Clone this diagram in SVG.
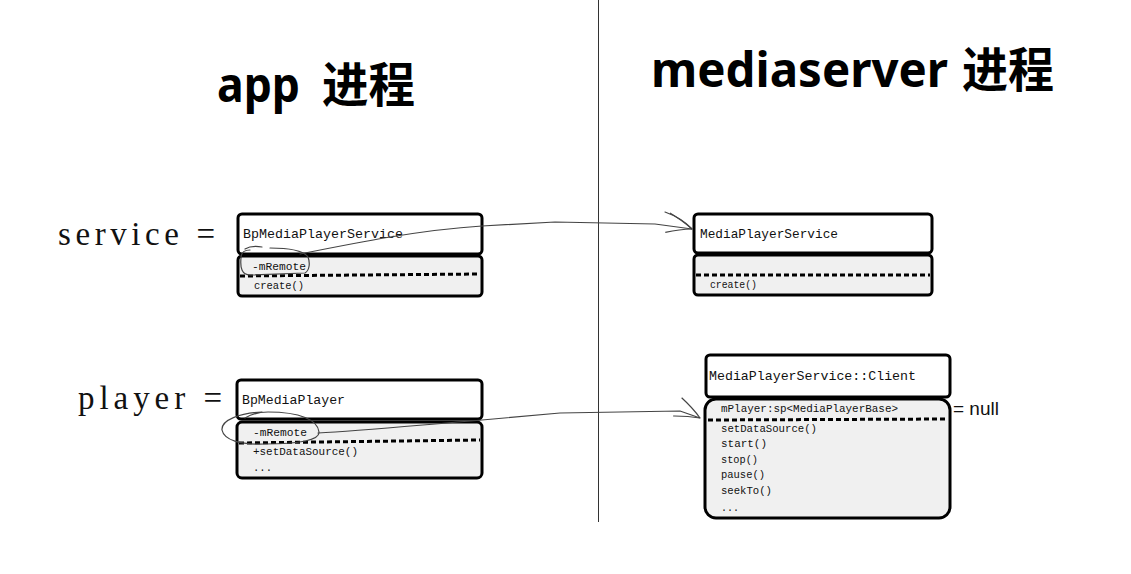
<svg xmlns="http://www.w3.org/2000/svg" width="1131" height="574" viewBox="0 0 1131 574">
<style>
.title{font-family:"Noto Sans","Noto Sans CJK SC",sans-serif;font-weight:bold;font-size:48px;fill:#000}
.lbl{font-family:"Liberation Serif",serif;font-size:33px;fill:#111}
.hdr{font-family:"Liberation Mono",monospace;font-size:13.3px;fill:#111}
.mem{font-family:"Liberation Mono",monospace;font-size:11px;fill:#111}
.top{fill:#fff;stroke:#000;stroke-width:3}
.bot{fill:#f0f0f0;stroke:#000;stroke-width:3}
.dash{fill:none;stroke:#000;stroke-width:3;stroke-dasharray:5 3}
.conn{fill:none;stroke:#444;stroke-width:1.2;stroke-linecap:round;stroke-linejoin:round}
.null{font-family:"Liberation Sans",sans-serif;font-size:19px;fill:#111}
</style>
<defs>
<marker id="arr" markerUnits="userSpaceOnUse" markerWidth="40" markerHeight="40" refX="0" refY="0" viewBox="-30 -20 40 40" orient="auto" overflow="visible">
<path d="M -24 -13 Q -10 -7 0 0 M -26 7 Q -12 2 0 0" fill="none" stroke="#444" stroke-width="1.2"/>
</marker>
</defs>
<rect x="0" y="0" width="1131" height="574" fill="#fff"/>
<line x1="598.5" y1="0" x2="598.5" y2="522" stroke="#333" stroke-width="1"/>
<g id="titles">
<text class="title" x="217" y="102" textLength="83" lengthAdjust="spacingAndGlyphs">app</text>
<text class="title" x="322" y="102" textLength="93" lengthAdjust="spacingAndGlyphs">进程</text>
<text class="title" x="651" y="87" textLength="297" lengthAdjust="spacingAndGlyphs">mediaserver</text>
<text class="title" x="962" y="87" textLength="92" lengthAdjust="spacingAndGlyphs">进程</text>
</g>
<g id="labels">
<text class="lbl" x="58" y="245" textLength="157" lengthAdjust="spacing">service =</text>
<text class="lbl" x="78" y="409" textLength="144" lengthAdjust="spacing">player =</text>
</g>
<g id="node-bpmediaplayerservice">
<rect class="top" x="238" y="214" width="244" height="40" rx="4"/>
<rect class="bot" x="238" y="256" width="244" height="40" rx="4"/>
<path class="dash" d="M 240 276 L 480 274"/>
<text class="hdr" x="243" y="238" textLength="160" lengthAdjust="spacingAndGlyphs">BpMediaPlayerService</text>
<text class="mem" x="252" y="270" textLength="54" lengthAdjust="spacingAndGlyphs">-mRemote</text>
<text class="mem" x="254" y="289" textLength="50" lengthAdjust="spacingAndGlyphs">create()</text>
</g>
<g id="node-mediaplayerservice">
<rect class="top" x="694" y="214" width="238" height="39" rx="4"/>
<rect class="bot" x="694" y="255" width="238" height="40" rx="4"/>
<path class="dash" d="M 696 275 L 930 275"/>
<text class="hdr" x="700" y="238" textLength="138" lengthAdjust="spacingAndGlyphs">MediaPlayerService</text>
<text class="mem" x="710" y="288" textLength="47" lengthAdjust="spacingAndGlyphs">create()</text>
</g>
<g id="node-bpmediaplayer">
<rect class="top" x="237" y="380" width="245" height="39" rx="4"/>
<rect class="bot" x="237" y="422" width="245" height="56" rx="5"/>
<path class="dash" d="M 239 443 L 480 440"/>
<text class="hdr" x="242" y="404" textLength="103" lengthAdjust="spacingAndGlyphs">BpMediaPlayer</text>
<text class="mem" x="253" y="436" textLength="54" lengthAdjust="spacingAndGlyphs">-mRemote</text>
<text class="mem" x="253" y="455" textLength="105" lengthAdjust="spacingAndGlyphs">+setDataSource()</text>
<text class="mem" x="253" y="471" textLength="19" lengthAdjust="spacingAndGlyphs">...</text>
</g>
<g id="node-client">
<rect class="top" x="706" y="355" width="244" height="42" rx="4"/>
<rect class="bot" x="705" y="399" width="245" height="119" rx="11"/>
<path class="dash" d="M 708 420 L 947 419"/>
<text class="hdr" x="709" y="380" textLength="207" lengthAdjust="spacingAndGlyphs">MediaPlayerService::Client</text>
<text class="mem" x="721" y="412" textLength="177" lengthAdjust="spacingAndGlyphs">mPlayer:sp&lt;MediaPlayerBase&gt;</text>
<text class="mem" x="721" y="432" textLength="96" lengthAdjust="spacingAndGlyphs">setDataSource()</text>
<text class="mem" x="721" y="447" textLength="46" lengthAdjust="spacingAndGlyphs">start()</text>
<text class="mem" x="721" y="463" textLength="37" lengthAdjust="spacingAndGlyphs">stop()</text>
<text class="mem" x="721" y="478" textLength="44" lengthAdjust="spacingAndGlyphs">pause()</text>
<text class="mem" x="721" y="494" textLength="51" lengthAdjust="spacingAndGlyphs">seekTo()</text>
<text class="mem" x="721" y="511" textLength="18" lengthAdjust="spacingAndGlyphs">...</text>
<text class="null" x="953" y="415">= null</text>
</g>
<g id="connectors">
<path class="conn" d="M 245 249 C 250 246 256 246 262 247 M 270 248 C 290 248 303 250 308 257 C 310 262 310 270 305 273 L 250 275 C 242 275 240 268 241 258 C 241 253 244 250 250 250"/>
<path class="conn" d="M 300 254 C 360 242 420 230 482 226 L 555 222 L 655 224 L 692 229" marker-end="url(#arr)"/>
<path class="conn" d="M 665 212 Q 682 218 692 229" />
<path class="conn" d="M 262 412 C 240 413 221 420 222 430 C 224 440 240 445 265 444 C 300 444 320 440 319 432 C 318 420 300 412 268 412 C 258 412 250 415 245 418"/>
<path class="conn" d="M 318 433 C 360 431 420 425 482 420 L 560 413 L 680 411 L 700 418" marker-end="url(#arr)"/>
</g>
</svg>
